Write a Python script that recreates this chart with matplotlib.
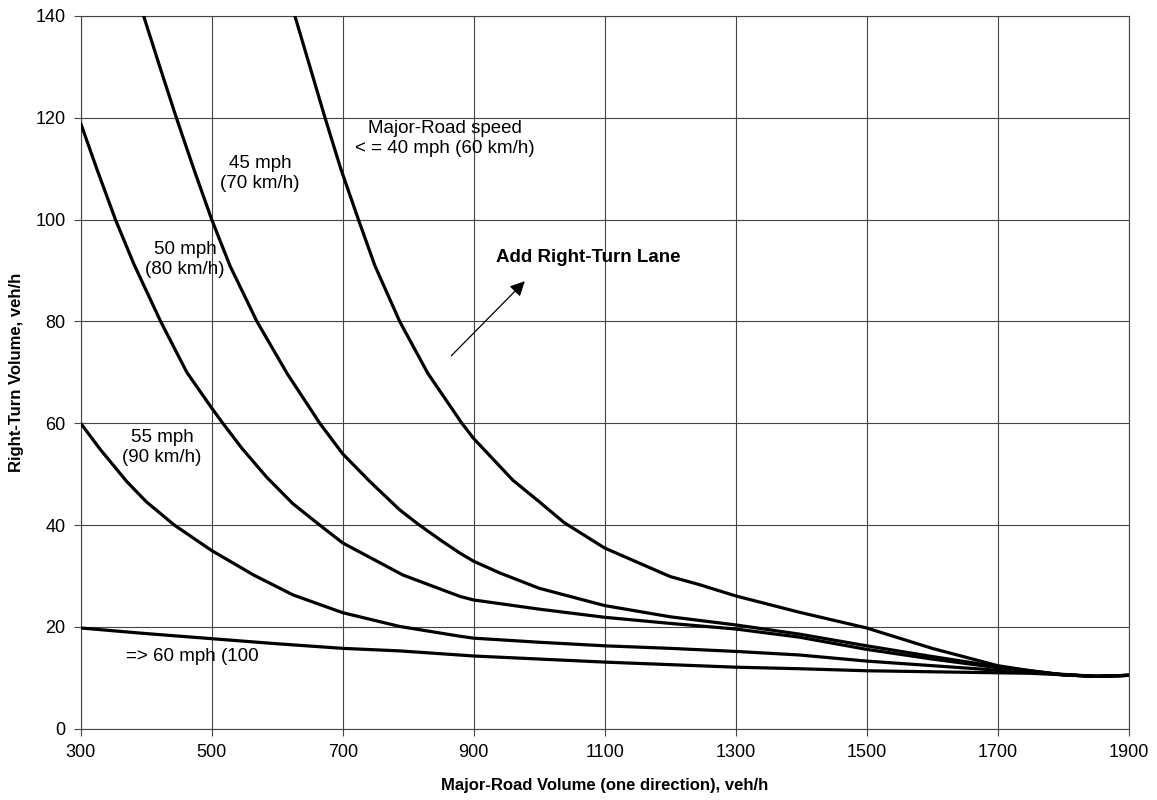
import numpy as np
import matplotlib.pyplot as plt

plt.rcParams['font.family'] = ['Liberation Sans', 'DejaVu Sans']

# Major-road volume (veh/h) and right-turn volume (veh/h)
x_60 = [300, 400, 500, 600, 700, 787, 900, 1100, 1300, 1397, 1500, 1600, 1700, 1750, 1800, 1850, 1900]
y_60 = [19.8, 18.7, 17.7, 16.7, 15.8, 15.3, 14.3, 13.1, 12.1, 11.8, 11.4, 11.2, 11.0, 10.9, 10.6, 10.3, 10.5]

x_55 = [300, 329, 370, 400, 443, 500, 564, 624, 700, 787, 878, 900, 1000, 1100, 1200, 1300,
        1397, 1500, 1600, 1700, 1750, 1800, 1850, 1900]
y_55 = [60, 55.0, 48.6, 44.6, 40, 35.0, 30.2, 26.3, 22.8, 20.1, 18.2, 17.8, 17.0, 16.3, 15.8, 15.2,
        14.5, 13.3, 12.4, 11.5, 11.1, 10.7, 10.3, 10.5]

x_50 = [300, 325, 353, 381, 422, 462, 500, 517, 546, 584, 624, 665, 700, 792, 879, 900, 1000,
        1100, 1200, 1300, 1397, 1500, 1600, 1700, 1750, 1800, 1850, 1900]
y_50 = [118.9, 109.8, 100, 91.3, 80, 70.0, 63.0, 60, 55.1, 49.4, 44.2, 40, 36.5, 30.2, 26.0, 25.3, 23.5,
        21.9, 20.7, 19.6, 18.0, 15.6, 13.7, 12.0, 11.3, 10.6, 10.3, 10.5]

x_45 = [396, 422, 446, 473, 500, 528, 569, 615, 665, 700, 742, 787, 815, 850, 879, 900, 940, 1000,
        1100, 1200, 1300, 1397, 1500, 1600, 1700, 1750, 1800, 1850, 1900]
y_45 = [140, 129.5, 120, 109.8, 100, 90.9, 80, 69.8, 60, 54.0, 48.5, 43.0, 40.2, 37.0, 34.5, 32.9, 30.6, 27.6,
        24.2, 22.0, 20.4, 18.6, 16.3, 14.2, 12.2, 11.4, 10.6, 10.3, 10.5]

x_40 = [627, 650, 673, 697, 724, 749, 787, 830, 882, 900, 960, 1000, 1038, 1100, 1200, 1245, 1300,
        1397, 1500, 1600, 1700, 1750, 1800, 1850, 1900]
y_40 = [140, 130.0, 120, 110.0, 100, 91.0, 80, 69.8, 60, 57.0, 48.8, 44.6, 40.5, 35.5, 29.9, 28.3, 26.1,
        22.9, 19.8, 15.8, 12.4, 11.4, 10.6, 10.3, 10.5]

x_ticks = [300, 500, 700, 900, 1100, 1300, 1500, 1700, 1900]
y_ticks = [0, 20, 40, 60, 80, 100, 120, 140]

fig = plt.figure(figsize=(11.57, 8), dpi=100)
ax = fig.add_axes([0.0698, 0.089, 0.9057, 0.891])

for xs, ys in [(x_60, y_60), (x_55, y_55), (x_50, y_50), (x_45, y_45), (x_40, y_40)]:
    ax.plot(xs, ys, color='black', lw=2.3, solid_joinstyle='round', solid_capstyle='round', zorder=3)

ax.set_xlim(300, 1900)
ax.set_ylim(0, 140)
ax.set_xticks(x_ticks)
ax.set_yticks(y_ticks)
ax.grid(True, color='#444444', lw=0.8)
ax.set_axisbelow(True)
for s in ax.spines.values():
    s.set_color('#444444')
    s.set_linewidth(0.8)
ax.tick_params(direction='out', length=5, width=0.8, color='#444444', labelsize=13, pad=6)

ax.set_xlabel('Major-Road Volume (one direction), veh/h', fontsize=12, fontweight='bold', labelpad=12)
ax.set_ylabel('Right-Turn Volume, veh/h', fontsize=12, fontweight='bold', labelpad=8)

# curve labels
lbl = dict(ha='center', va='center', fontsize=13.5, linespacing=1.25)
ax.text(574, 109, '45 mph\n(70 km/h)', **lbl)
ax.text(459, 92.2, '50 mph\n(80 km/h)', **lbl)
ax.text(424, 55.3, '55 mph\n(90 km/h)', **lbl)
ax.text(856, 116, 'Major-Road speed\n< = 40 mph (60 km/h)', **lbl)
ax.text(369, 14.2, '=> 60 mph (100', ha='left', va='center', fontsize=13.5)
ax.text(1075, 92.6, 'Add Right-Turn Lane', ha='center', va='center', fontsize=13.5, fontweight='bold')

ax.annotate('', xy=(981, 88.3), xytext=(863, 72.9),
            arrowprops=dict(arrowstyle='-|>', color='black', lw=0.9, mutation_scale=22))

fig.savefig('out.png', dpi=100)
